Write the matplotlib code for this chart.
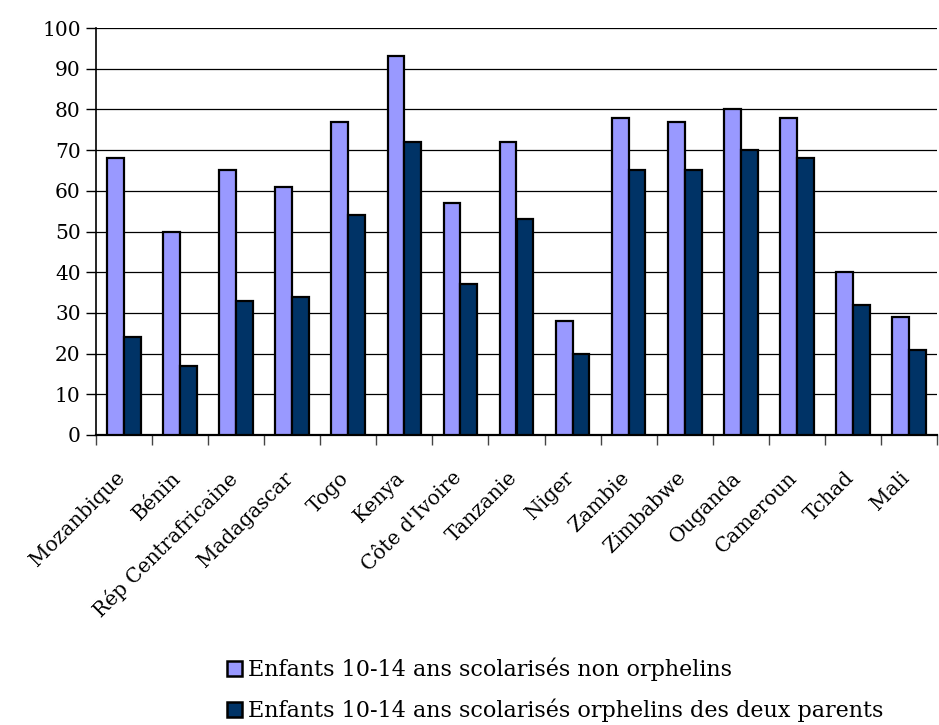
import matplotlib
matplotlib.use("Agg")
import matplotlib.pyplot as plt
from matplotlib.transforms import ScaledTranslation
import numpy as np

countries = ["Mozanbique", "Bénin", "Rép Centrafricaine", "Madagascar", "Togo",
             "Kenya", "Côte d'Ivoire", "Tanzanie", "Niger", "Zambie",
             "Zimbabwe", "Ouganda", "Cameroun", "Tchad", "Mali"]
non_orphelins = [68, 50, 65, 61, 77, 93, 57, 72, 28, 78, 77, 80, 78, 40, 29]
orphelins = [24, 17, 33, 34, 54, 72, 37, 53, 20, 65, 65, 70, 68, 32, 21]
series_labels = ["Enfants 10-14 ans scolarisés non orphelins",
                 "Enfants 10-14 ans scolarisés orphelins des deux parents"]
yticks = list(range(0, 101, 10))

plt.rcParams["font.family"] = ["DejaVu Serif"]

W, H = 939, 725
fig = plt.figure(figsize=(W / 100, H / 100), dpi=100)
ax = fig.add_axes([96 / W, 1 - 435 / H, (937 - 96) / W, (435 - 28) / H])

x = np.arange(len(countries))
bw = 0.3
ax.bar(x - bw / 2, non_orphelins, bw, color="#9999FF", edgecolor="black",
       linewidth=1.6, label=series_labels[0], zorder=3)
ax.bar(x + bw / 2, orphelins, bw, color="#003366", edgecolor="black",
       linewidth=1.6, label=series_labels[1], zorder=3)

ax.set_xlim(-0.5, len(countries) - 0.5)
ax.set_ylim(0, 100)
ax.set_yticks(yticks)
ax.set_yticklabels([str(v) for v in yticks], fontsize=14.5)
ax.yaxis.grid(True, color="black", linewidth=0.9, zorder=0)
ax.set_axisbelow(True)

# category labels sit under each group, ticks mark the group boundaries
ax.set_xticks(x)
ax.set_xticklabels(countries, rotation=45, ha="right", rotation_mode="anchor",
                   fontsize=14.5)
ax.tick_params(axis="x", which="major", length=0, pad=24)
shift = ScaledTranslation(-9 / 100, 0, fig.dpi_scale_trans)
for lab in ax.get_xticklabels():
    lab.set_transform(lab.get_transform() + shift)
ax.set_xticks(np.arange(-0.5, len(countries), 1.0), minor=True)
ax.tick_params(axis="x", which="minor", length=7, width=1, direction="out",
               color="#444444")
ax.tick_params(axis="y", length=7, width=1, direction="out", pad=4)

for side in ["top", "right"]:
    ax.spines[side].set_visible(False)
ax.spines["left"].set_linewidth(1.2)
ax.spines["bottom"].set_linewidth(1.6)

leg = fig.legend(loc="upper left", bbox_to_anchor=(218 / W, 1 - 649 / H),
                 frameon=False, fontsize=16, handlelength=0.7,
                 handleheight=0.7, handletextpad=0.25, labelspacing=0.78,
                 borderaxespad=0)
for h in leg.legend_handles:
    h.set_linewidth(1.8)

fig.savefig("out.png", dpi=100)
